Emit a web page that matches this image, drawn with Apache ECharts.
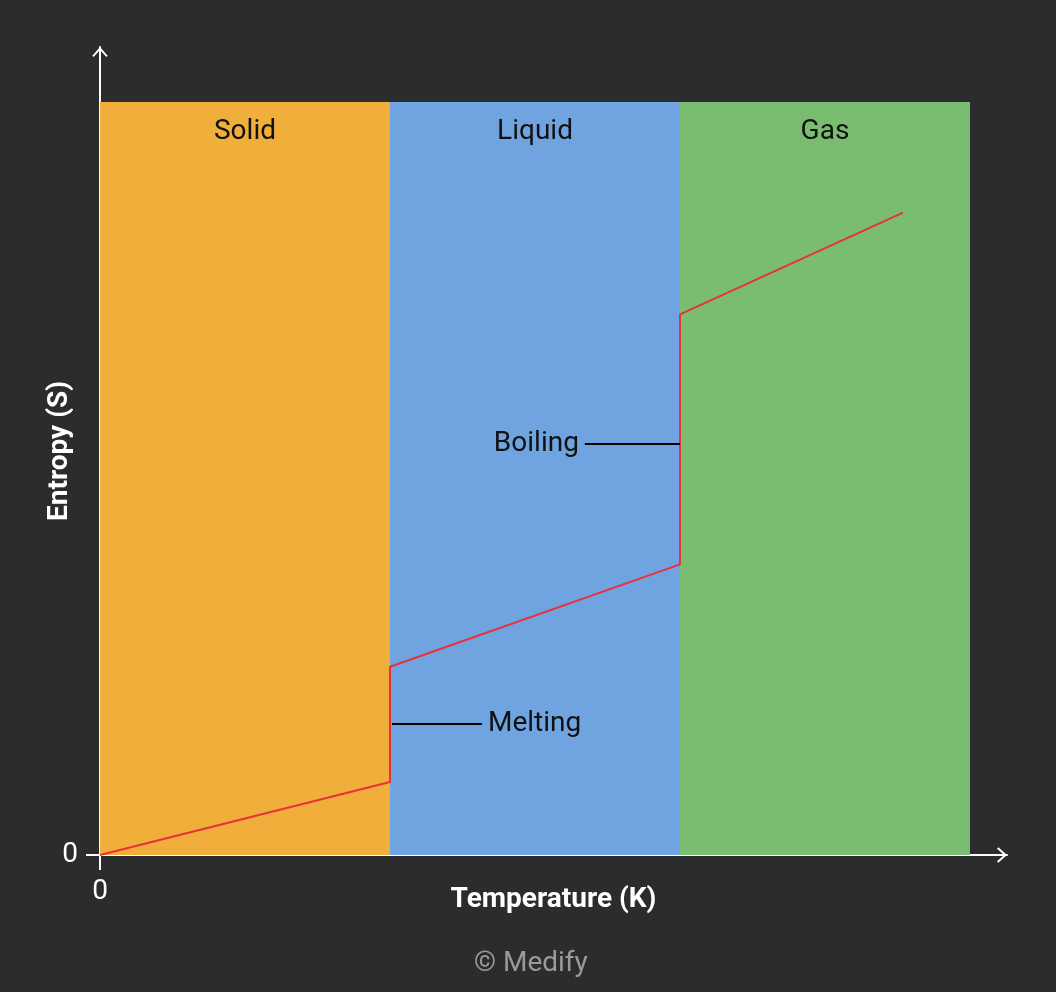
<!DOCTYPE html>
<html>
<head>
<meta charset="utf-8">
<script src="https://cdn.jsdelivr.net/npm/echarts@6/dist/echarts.min.js"></script>
<style>
html,body{margin:0;padding:0;background:#2b2c2e;}
#chart{width:1056px;height:992px;}
</style>
</head>
<body>
<div id="chart"></div>
<script>
// ---- data ----
const phases = ['Solid', 'Liquid', 'Gas'];
const phaseBounds = [0, 100, 200, 300];
const bandTop = 100;
const tempX = [0, 100, 100, 200, 200, 276.9];
const entropyY = [0, 9.7, 25.0, 38.6, 71.8, 85.3];
const boiling = { label: 'Boiling', y: 54.6, x0: 167.2, x1: 200 };
const melting = { label: 'Melting', y: 17.4, x0: 100.7, x1: 131.7 };
const xTicks = [0];
const yTicks = [0];

const FONT = 'Roboto, "Liberation Sans", sans-serif';
const FS = 28;
const colors = ['#f0ae3a', '#6fa4e0', '#7abd71'];
const arrowPath = 'path://M0,9 L8,0 L16,9 L14.6,10.4 L8,3 L1.4,10.4 Z';

const chart = echarts.init(document.getElementById('chart'));
const bands = phases.map((p, i) => [
  { xAxis: phaseBounds[i], yAxis: 0, name: p, itemStyle: { color: colors[i] } },
  { xAxis: phaseBounds[i + 1], yAxis: bandTop }
]);

chart.setOption({
  backgroundColor: '#2b2c2e',
  animation: false,
  grid: { left: 100, top: 47, right: 49, bottom: 137 },
  xAxis: {
    type: 'value', min: 0, max: 907 / 2.9,
    name: 'Temperature (K)', nameLocation: 'middle', nameGap: 31, nameMoveOverlap: false,
    nameTextStyle: { color: '#fff', fontSize: FS, fontWeight: 'bold', fontFamily: FONT },
    splitLine: { show: false },
    axisLine: { show: true, lineStyle: { color: '#fff', width: 2 }, symbol: ['none', arrowPath], symbolSize: [16, 10], symbolOffset: [0, -5] },
    axisTick: { show: true, length: 15, lineStyle: { color: '#fff', width: 2 }, customValues: xTicks },
    axisLabel: { color: '#fff', fontSize: FS, fontFamily: FONT, margin: 23, customValues: xTicks, formatter: v => String(v) }
  },
  yAxis: {
    type: 'value', min: 0, max: 808 / 7.53,
    name: 'Entropy (S)', nameLocation: 'middle', nameGap: 26, nameMoveOverlap: false,
    nameTextStyle: { color: '#fff', fontSize: FS, fontWeight: 'bold', fontFamily: FONT },
    splitLine: { show: false },
    axisLine: { show: true, lineStyle: { color: '#fff', width: 2 }, symbol: ['none', arrowPath], symbolSize: [16, 10], symbolOffset: [0, -5] },
    axisTick: { show: true, length: 14, lineStyle: { color: '#fff', width: 2 }, customValues: yTicks },
    axisLabel: { color: '#fff', fontSize: FS, fontFamily: FONT, margin: 22, customValues: yTicks, formatter: v => String(v) }
  },
  series: [
    {
      type: 'line', data: [], z: 1,
      markArea: {
        silent: true,
        label: { show: true, position: 'insideTop', distance: 16, color: '#111', fontSize: FS, fontFamily: FONT },
        data: bands
      }
    },
    {
      type: 'line', z: 3,
      data: tempX.map((x, i) => [x, entropyY[i]]),
      symbol: 'none',
      lineStyle: { color: '#e8313a', width: 2 },
      markLine: {
        silent: true, symbol: 'none',
        lineStyle: { color: '#000', width: 2, type: 'solid' },
        data: [
          [
            { coord: [boiling.x0, boiling.y], label: { show: true, position: 'start', formatter: boiling.label, distance: 6, color: '#111', fontSize: FS, fontFamily: FONT } },
            { coord: [boiling.x1, boiling.y] }
          ],
          [
            { coord: [melting.x0, melting.y], label: { show: true, position: 'end', formatter: melting.label, distance: 6, color: '#111', fontSize: FS, fontFamily: FONT } },
            { coord: [melting.x1, melting.y] }
          ]
        ]
      }
    }
  ],
  graphic: [
    { type: 'text', left: 474, top: 950, style: { text: '© Medify', fill: '#9a9a9a', fontSize: FS, fontFamily: FONT } }
  ]
});
</script>
</body>
</html>
